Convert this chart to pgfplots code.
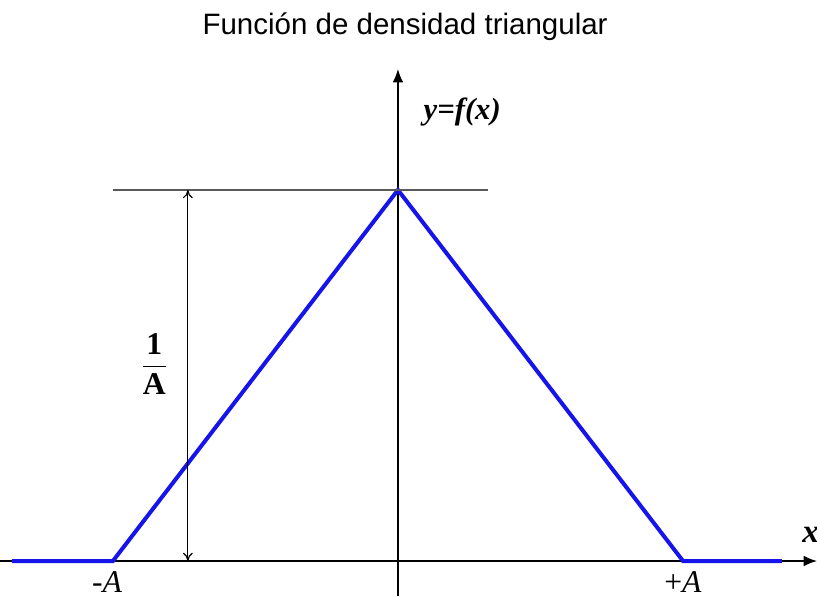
\documentclass[border=0pt]{standalone}
\usepackage{fontspec}
\setmainfont{Liberation Serif}
\newfontfamily\arialf{Liberation Sans}
\usepackage{pgfplots}
\pgfplotsset{compat=1.18}
\usetikzlibrary{arrows.meta}
\definecolor{tri}{RGB}{20,20,235}

\begin{document}
\begin{tikzpicture}
\useasboundingbox (0,0) rectangle (245.1pt,178.8pt);
\begin{axis}[
    at={(0pt,0pt)}, anchor=south west,
    scale only axis,
    width=245.1pt, height=158.1pt,
    xmin=-1.396, xmax=1.470,
    ymin=-0.0943, ymax=1.326,
    axis lines=middle,
    axis line style={line width=0.45pt, -{Latex[length=4pt,width=3.2pt]}},
    xtick=\empty, ytick=\empty,
    clip=false,
]
% density
\addplot[tri, line width=1.2pt] coordinates {(-1.354,0) (-1,0) (0,1) (1,0) (1.347,0)};

% guide lines
\draw[gray!70!black, line width=0.4pt] (axis cs:-1,1) -- (axis cs:0.316,1);
\draw[line width=0.35pt, {To[length=2.5pt,width=3pt]}-{To[length=2.5pt,width=3pt]}] (axis cs:-0.737,0) -- (axis cs:-0.737,1);

% labels
\node[anchor=base, inner sep=0pt] at (axis cs:-1.02,-0.086) {\fontsize{9.5}{11}\selectfont -\textit{A}};
\node[anchor=base, inner sep=0pt] at (axis cs:1.0,-0.086) {\fontsize{9.5}{11}\selectfont +\textit{A}};
\node[anchor=base, inner sep=0pt] at (axis cs:1.448,0.051) {\fontsize{10}{12}\selectfont\bfseries\itshape x};
\node[anchor=base west, inner sep=0pt] at (axis cs:0.088,1.19) {\fontsize{9.2}{11}\selectfont\bfseries\itshape y=f(x)};
\node at (axis cs:-0.855,0.53) {\fontsize{9.5}{11}\selectfont $\displaystyle\frac{\textbf{1}}{\textbf{A}}$};

% title
\node[anchor=base] at (axis cs:0.025,1.418) {\arialf\fontsize{8.85}{10}\selectfont Función de densidad triangular};
\end{axis}
\end{tikzpicture}
\end{document}
